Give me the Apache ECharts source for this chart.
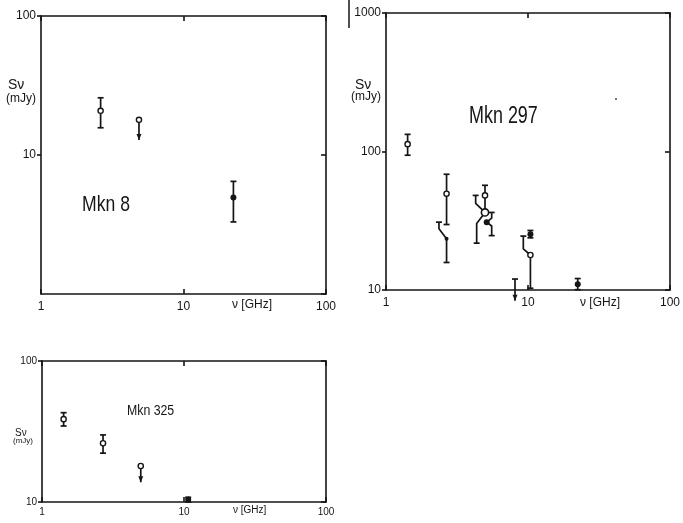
<!DOCTYPE html>
<html>
<head>
<meta charset="utf-8">
<script src="https://cdn.jsdelivr.net/npm/echarts@6/dist/echarts.min.js"></script>
<style>
  html, body {margin:0; padding:0; background:#fff;}
  #main {width:683px; height:523px;}
</style>
</head>
<body>
<div id="main"></div>
<script>
// Mkn 8
var mkn8Freq = [2.62, 4.87, 22.4];
var mkn8Flux = [20.8, 17.9, 4.94];
var mkn8Lo = [15.7, 12.8, 3.3];
var mkn8Hi = [25.8, 17.9, 6.46];
var mkn8Kind = ['open', 'limit', 'filled'];

// Mkn 297
var mkn297Freq = [1.42, 2.67, 2.67, 4.98, 4.98, 5.12, 8.10, 10.4, 10.4, 22.4];
var mkn297Flux = [113, 49.6, 23.4, 48.2, 36.3, 30.9, 12.0, 25.3, 17.9, 11.0];
var mkn297Lo = [94, 29.7, 15.8, 36.3, 21.8, 24.7, 8.36, 23.8, 10.3, 10.05];
var mkn297Hi = [133, 68.5, 30.9, 57.0, 48.2, 36.3, 12.0, 26.9, 24.5, 12.1];
var mkn297Kind = ['open', 'open', 'dot', 'open', 'bigopen', 'filled', 'arrow', 'filled', 'open', 'filled'];
// shifted parts of the bars (freq of the shifted piece, flux where it bends back)
var mkn297UpFreq = [null, null, 2.36, null, 4.28, 5.55, null, null, 9.27, null];
var mkn297UpBend = [null, null, 27.7, null, 42.2, 33, null, null, 19.8, null];
var mkn297DnFreq = [null, null, null, null, 4.35, 5.55, null, null, null, null];
var mkn297DnBend = [null, null, null, null, 30.2, 29, null, null, null, null];

// Mkn 325
var mkn325Freq = [1.42, 2.69, 4.96, 10.7];
var mkn325Flux = [38.7, 26.1, 18.0, 10.4];
var mkn325Lo = [34.6, 22.2, 13.8, 10.0];
var mkn325Hi = [43.0, 29.9, 18.0, 10.8];
var mkn325Kind = ['open', 'open', 'limit', 'filled'];

var ink = '#151515';
var fnt = '"Liberation Sans", Arimo, sans-serif';

function rows(f, s, lo, hi) {
  var out = [];
  for (var i = 0; i < f.length; i++) out.push([f[i], s[i], lo[i], hi[i]]);
  return out;
}

function errRender(kinds, upF, upB, dnF, dnB) {
  upF = upF || []; upB = upB || []; dnF = dnF || []; dnB = dnB || [];
  return function (params, api) {
    var i = params.dataIndex;
    var f = api.value(0), s = api.value(1), lo = api.value(2), hi = api.value(3);
    var k = kinds[i];
    var p = api.coord([f, s]);
    var ls = {stroke: ink, lineWidth: 1.7, fill: null};
    var kids = [];
    function cap(pt) {
      return {type: 'line', shape: {x1: pt[0] - 3, y1: pt[1], x2: pt[0] + 3, y2: pt[1]}, style: ls};
    }
    var top, bot;
    if (hi > s) {
      if (upF[i] != null) {
        top = api.coord([upF[i], hi]);
        kids.push({type: 'polyline', shape: {points: [top, api.coord([upF[i], upB[i]]), p]}, style: ls});
      } else {
        top = api.coord([f, hi]);
        kids.push({type: 'line', shape: {x1: p[0], y1: p[1], x2: top[0], y2: top[1]}, style: ls});
      }
      kids.push(cap(top));
    }
    if (dnF[i] != null) {
      bot = api.coord([dnF[i], lo]);
      kids.push({type: 'polyline', shape: {points: [p, api.coord([dnF[i], dnB[i]]), bot]}, style: ls});
    } else {
      bot = api.coord([f, lo]);
      kids.push({type: 'line', shape: {x1: p[0], y1: p[1], x2: bot[0], y2: bot[1]}, style: ls});
    }
    if (k == 'limit' || k == 'arrow') {
      kids.push({type: 'polygon', shape: {points: [[bot[0] - 2.5, bot[1] - 6], [bot[0] + 2.5, bot[1] - 6], [bot[0], bot[1]]]},
        style: {fill: ink}});
    } else {
      kids.push(cap(bot));
    }
    if (k == 'arrow') kids.push(cap(p));
    if (k == 'open' || k == 'limit') {
      kids.push({type: 'circle', shape: {cx: p[0], cy: p[1], r: 2.6}, style: {fill: '#fff', stroke: ink, lineWidth: 1.4}});
    } else if (k == 'bigopen') {
      kids.push({type: 'circle', shape: {cx: p[0], cy: p[1], r: 3.6}, style: {fill: '#fff', stroke: ink, lineWidth: 1.6}});
    } else if (k == 'filled') {
      kids.push({type: 'circle', shape: {cx: p[0], cy: p[1], r: 3}, style: {fill: ink}});
    } else if (k == 'dot') {
      kids.push({type: 'circle', shape: {cx: p[0], cy: p[1], r: 2}, style: {fill: ink}});
    }
    return {type: 'group', children: kids};
  };
}

var grids = [
  {left: 41, top: 16, width: 285, height: 278},
  {left: 386, top: 13, width: 284, height: 277},
  {left: 42, top: 361, width: 284, height: 141}
];
var yRange = [[1, 100], [10, 1000], [10, 100]];
var labSize = [12, 12, 10];

var lineSt = {color: ink, width: 1.6};
function plain(v) { return String(Math.round(v)); }
var xAxes = [], yAxes = [];
for (var g = 0; g < 3; g++) {
  xAxes.push({
    type: 'log', logBase: 10, gridIndex: g, min: 1, max: 100, position: 'bottom',
    axisLine: {lineStyle: lineSt}, splitLine: {show: false},
    axisTick: {inside: true, length: 5, lineStyle: lineSt},
    axisLabel: {fontFamily: fnt, fontSize: labSize[g], color: ink, margin: g == 2 ? 5 : 7, formatter: plain}
  });
  xAxes.push({
    type: 'log', logBase: 10, gridIndex: g, min: 1, max: 100, position: 'top',
    axisLine: {lineStyle: lineSt}, splitLine: {show: false},
    axisTick: {inside: true, length: 5, lineStyle: lineSt},
    axisLabel: {show: false}
  });
  yAxes.push({
    type: 'log', logBase: 10, gridIndex: g, min: yRange[g][0], max: yRange[g][1], position: 'left',
    axisLine: {lineStyle: lineSt}, splitLine: {show: false},
    axisTick: {inside: false, length: 4, lineStyle: lineSt},
    axisLabel: {fontFamily: fnt, fontSize: labSize[g], color: ink, margin: 5, showMinLabel: g != 0, formatter: plain}
  });
  yAxes.push({
    type: 'log', logBase: 10, gridIndex: g, min: yRange[g][0], max: yRange[g][1], position: 'right',
    axisLine: {lineStyle: lineSt}, splitLine: {show: false},
    axisTick: {inside: true, length: 5, lineStyle: lineSt},
    axisLabel: {show: false}
  });
}

function txt(left, top, text, size, sx) {
  return {type: 'text', x: left, y: top, scaleX: sx || 1,
    style: {text: text, font: size + 'px ' + fnt, fill: ink}};
}

var myChart = echarts.init(document.getElementById('main'));
var option = {
  backgroundColor: '#fff',
  animation: false,
  grid: grids,
  xAxis: xAxes,
  yAxis: yAxes,
  graphic: [
    txt(8, 78, 'S\u03bd', 14), txt(6, 93, '(mJy)', 12),
    txt(82, 194, 'Mkn 8', 22, 0.8), txt(232, 299, '\u03bd [GHz]', 12),
    txt(355, 78, 'S\u03bd', 14), txt(351, 91, '(mJy)', 12),
    txt(469, 105, 'Mkn 297', 23, 0.78), txt(580, 297, '\u03bd [GHz]', 12),
    txt(15, 428, 'S\u03bd', 10), txt(13, 437, '(mJy)', 8),
    txt(127, 403, 'Mkn 325', 15, 0.82), txt(233, 505, '\u03bd [GHz]', 10),
    {type: 'line', shape: {x1: 349, y1: 0, x2: 349, y2: 28}, style: {stroke: ink, lineWidth: 1.5}},
    {type: 'circle', shape: {cx: 616, cy: 99, r: 1}, style: {fill: '#444'}}
  ],
  series: [
    {type: 'custom', xAxisIndex: 0, yAxisIndex: 0, clip: false, encode: {x: 0, y: 1},
      renderItem: errRender(mkn8Kind), data: rows(mkn8Freq, mkn8Flux, mkn8Lo, mkn8Hi)},
    {type: 'custom', xAxisIndex: 2, yAxisIndex: 2, clip: false, encode: {x: 0, y: 1},
      renderItem: errRender(mkn297Kind, mkn297UpFreq, mkn297UpBend, mkn297DnFreq, mkn297DnBend),
      data: rows(mkn297Freq, mkn297Flux, mkn297Lo, mkn297Hi)},
    {type: 'custom', xAxisIndex: 4, yAxisIndex: 4, clip: false, encode: {x: 0, y: 1},
      renderItem: errRender(mkn325Kind), data: rows(mkn325Freq, mkn325Flux, mkn325Lo, mkn325Hi)}
  ]
};
myChart.setOption(option);
</script>
</body>
</html>
